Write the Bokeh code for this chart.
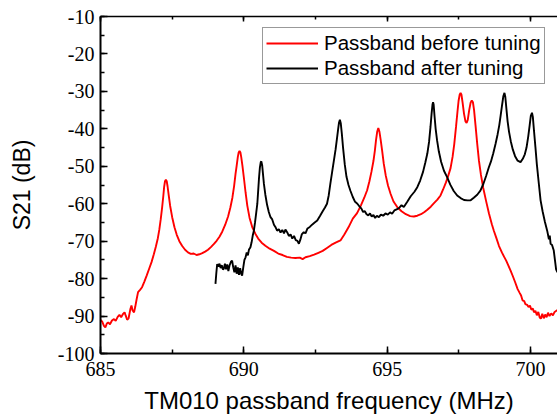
from bokeh.plotting import figure
from bokeh.models import (LinearAxis, Range1d, Legend, LegendItem, SingleIntervalTicker,
                          PrintfTickFormatter, CustomJSTickFormatter)
from bokeh.embed import file_html
from bokeh.resources import INLINE

# ---- data ----
f_before = [685.00, 685.06, 685.12, 685.17, 685.22, 685.27, 685.33, 685.40, 685.47, 685.53,
            685.60, 685.66, 685.72, 685.78, 685.84, 685.88, 685.93, 685.98, 686.04, 686.08,
            686.12, 686.17, 686.21, 686.26, 686.31, 686.38, 686.45, 686.53, 686.61, 686.70,
            686.78, 686.86, 686.93, 687.00, 687.05, 687.10, 687.15, 687.19, 687.22, 687.25,
            687.28, 687.31, 687.34, 687.38, 687.43, 687.50, 687.58, 687.66, 687.75, 687.85,
            687.95, 688.05, 688.15, 688.25, 688.35, 688.45, 688.55, 688.65, 688.75, 688.85,
            688.95, 689.05, 689.15, 689.25, 689.35, 689.45, 689.53, 689.60, 689.66, 689.71,
            689.75, 689.79, 689.82, 689.85, 689.88, 689.91, 689.95, 690.00, 690.06, 690.12,
            690.20, 690.30, 690.40, 690.50, 690.62, 690.75, 690.90, 691.05, 691.20, 691.35,
            691.50, 691.65, 691.80, 691.95, 692.05, 692.15, 692.30, 692.45, 692.60, 692.75,
            692.90, 693.05, 693.20, 693.37, 693.50, 693.65, 693.80, 693.95, 694.08, 694.20,
            694.30, 694.38, 694.45, 694.52, 694.57, 694.61, 694.65, 694.69, 694.73, 694.77,
            694.82, 694.88, 694.95, 695.03, 695.12, 695.22, 695.35, 695.50, 695.65, 695.80,
            695.93, 696.05, 696.18, 696.30, 696.40, 696.52, 696.64, 696.75, 696.86, 696.95,
            697.05, 697.13, 697.21, 697.28, 697.34, 697.40, 697.45, 697.49, 697.53, 697.56,
            697.59, 697.63, 697.68, 697.73, 697.77, 697.81, 697.86, 697.91, 697.95, 697.99,
            698.03, 698.08, 698.14, 698.20, 698.27, 698.35, 698.45, 698.55, 698.65, 698.72,
            698.80, 698.90, 699.00, 699.08, 699.15, 699.22, 699.30, 699.38, 699.46, 699.55,
            699.62, 699.67, 699.72, 699.78, 699.82, 699.88, 699.93, 699.98, 700.03, 700.08,
            700.12, 700.17, 700.22, 700.27, 700.32, 700.36, 700.41, 700.46, 700.51, 700.56,
            700.61, 700.66, 700.72, 700.78, 700.84, 700.90, 700.94]
s21_before = [-91.0, -91.5, -92.6, -93.0, -92.0, -91.7, -92.2, -91.2, -90.8, -91.3,
              -90.2, -89.7, -90.3, -89.5, -89.0, -89.9, -91.0, -90.6, -88.2, -87.2,
              -88.5, -89.0, -87.6, -85.5, -83.6, -83.0, -82.3, -80.8, -79.2, -77.3,
              -75.6, -73.5, -71.5, -69.2, -67.0, -64.2, -61.0, -58.0, -55.5, -54.0,
              -53.6, -54.0, -55.4, -57.8, -60.6, -63.6, -66.3, -68.3, -70.0, -71.3,
              -72.3, -73.0, -73.4, -73.3, -73.7, -73.5, -73.2, -72.8, -72.3, -71.6,
              -70.8, -69.9, -68.8, -67.4, -65.6, -63.4, -61.0, -58.4, -55.3, -52.0,
              -49.8, -47.5, -46.3, -45.9, -46.3, -47.6, -49.8, -53.0, -57.0, -60.5,
              -63.8, -66.4, -68.0, -69.3, -70.4, -71.2, -72.0, -72.6, -73.3, -73.7,
              -74.2, -74.4, -74.5, -74.4, -74.8, -74.3, -74.0, -73.6, -73.1, -72.6,
              -71.8, -71.0, -70.4, -69.8, -68.3, -66.3, -64.0, -62.5, -60.5, -58.4,
              -56.4, -54.0, -51.5, -48.6, -45.8, -43.0, -40.8, -39.8, -40.8, -42.8,
              -45.6, -49.3, -52.5, -55.2, -57.4, -59.4, -60.9, -62.0, -62.8, -63.3,
              -63.4, -63.2, -62.8, -62.2, -61.6, -60.8, -59.8, -58.9, -57.8, -56.2,
              -54.3, -52.5, -50.5, -47.5, -44.0, -39.5, -35.5, -32.5, -30.8, -30.4,
              -30.9, -33.0, -36.0, -38.0, -38.4, -37.6, -35.0, -33.0, -32.4, -32.9,
              -35.0, -39.0, -44.0, -48.5, -52.3, -55.8, -59.3, -62.6, -65.5, -67.2,
              -69.0, -71.3, -73.0, -74.2, -75.2, -76.4, -77.8, -79.3, -80.9, -82.8,
              -83.8, -84.5, -85.8, -86.0, -86.8, -87.0, -87.6, -87.2, -88.3, -88.0,
              -89.0, -88.6, -89.8, -88.9, -90.4, -90.7, -89.4, -90.6, -89.6, -90.3,
              -89.1, -90.0, -89.3, -89.8, -88.9, -88.6, -88.4]

f_after = [689.01, 689.04, 689.07, 689.11, 689.15, 689.19, 689.23, 689.27, 689.30, 689.34,
           689.38, 689.42, 689.46, 689.50, 689.55, 689.59, 689.63, 689.67, 689.71, 689.75,
           689.79, 689.83, 689.87, 689.91, 689.94, 689.98, 690.02, 690.06, 690.10, 690.14,
           690.18, 690.23, 690.27, 690.31, 690.35, 690.39, 690.43, 690.47, 690.50, 690.53,
           690.56, 690.59, 690.61, 690.64, 690.67, 690.70, 690.75, 690.81, 690.87, 690.93,
           690.99, 691.05, 691.10, 691.16, 691.22, 691.28, 691.34, 691.40, 691.45, 691.51,
           691.57, 691.63, 691.69, 691.75, 691.81, 691.87, 691.92, 691.97, 692.02, 692.09,
           692.15, 692.22, 692.30, 692.38, 692.46, 692.56, 692.66, 692.75, 692.83, 692.90,
           692.96, 693.02, 693.08, 693.14, 693.20, 693.25, 693.29, 693.32, 693.35, 693.38,
           693.42, 693.46, 693.52, 693.58, 693.65, 693.72, 693.80, 693.88, 693.96, 694.04,
           694.10, 694.16, 694.22, 694.28, 694.34, 694.40, 694.46, 694.52, 694.58, 694.64,
           694.71, 694.78, 694.86, 694.94, 695.02, 695.10, 695.17, 695.25, 695.33, 695.41,
           695.50, 695.58, 695.70, 695.82, 695.95, 696.05, 696.15, 696.25, 696.33, 696.40,
           696.46, 696.51, 696.55, 696.58, 696.60, 696.62, 696.65, 696.69, 696.74, 696.80,
           696.88, 696.98, 697.09, 697.20, 697.32, 697.44, 697.56, 697.68, 697.80, 697.91,
           698.02, 698.14, 698.25, 698.35, 698.45, 698.54, 698.62, 698.70, 698.78, 698.85,
           698.91, 698.96, 699.01, 699.05, 699.09, 699.12, 699.16, 699.20, 699.25, 699.31,
           699.38, 699.46, 699.55, 699.65, 699.73, 699.80, 699.86, 699.92, 699.97, 700.01,
           700.05, 700.08, 700.12, 700.17, 700.22, 700.28, 700.35, 700.42, 700.50, 700.58,
           700.64, 700.67, 700.70, 700.75, 700.81, 700.85, 700.89, 700.94]
s21_after = [-81.4, -78.5, -76.1, -76.8, -76.0, -77.2, -76.4, -77.6, -77.4, -76.0,
             -77.5, -76.2, -78.0, -76.5, -75.5, -75.2, -77.0, -78.3, -76.5, -78.7,
             -77.0, -79.0, -77.2, -78.8, -79.2, -77.0, -75.0, -74.3, -73.0, -73.8,
             -72.2, -71.6, -70.3, -68.5, -67.2, -65.0, -62.5, -60.0, -56.5, -53.0,
             -50.3, -48.9, -48.7, -49.8, -52.3, -54.7, -57.6, -60.3, -62.2, -63.6,
             -64.2, -65.6, -66.2, -67.2, -66.8, -67.7, -67.0, -67.9, -66.9, -67.6,
             -68.6, -68.2, -69.3, -68.6, -69.7, -69.9, -70.7, -69.6, -68.2, -67.6,
             -67.9, -66.6, -66.2, -65.6, -65.1, -64.5, -63.2, -62.0, -61.0, -60.0,
             -57.8, -54.5, -51.5, -48.5, -45.5, -42.5, -40.0, -38.3, -37.6, -38.5,
             -41.5, -45.0, -49.5, -52.8, -55.0, -56.6, -58.2, -59.5, -60.0, -60.8,
             -61.3, -62.2, -62.0, -62.8, -63.1, -62.6, -63.4, -63.0, -63.8, -63.2,
             -63.6, -62.9, -63.2, -62.6, -62.9, -62.3, -62.7, -61.8, -61.5, -61.2,
             -60.4, -60.9, -59.5, -58.0, -56.8, -55.6, -53.8, -51.5, -49.0, -46.6,
             -43.5, -39.5, -35.8, -33.5, -32.9, -33.5, -36.5, -40.0, -43.1, -46.0,
             -48.8, -51.2, -52.9, -54.9, -56.6, -57.8, -58.5, -59.0, -59.1, -59.1,
             -58.4, -57.6, -56.5, -54.8, -52.6, -50.4, -48.7, -46.5, -44.0, -41.5,
             -39.0, -36.3, -33.5, -31.3, -30.4, -31.5, -34.8, -38.0, -40.8, -43.3,
             -45.5, -47.3, -48.5, -48.9, -48.0, -46.8, -45.0, -42.0, -39.0, -36.5,
             -35.7, -36.8, -40.5, -44.9, -49.5, -54.0, -59.1, -62.0, -64.8, -67.2,
             -69.5, -68.5, -70.7, -71.0, -72.5, -75.0, -77.5, -78.3]

series_labels = ["Passband before tuning", "Passband after tuning"]
x_title = "TM010 passband frequency (MHz)"
y_title = "S21 (dB)"

SERIF = "'Liberation Serif', 'Times New Roman', serif"
SANS = "'Liberation Sans', Arial, sans-serif"

# ---- figure ----
p = figure(width=557, height=417, output_backend="svg", toolbar_location=None,
           x_range=Range1d(685, 700.94), y_range=Range1d(-100, -10),
           min_border_left=100, min_border_right=0, min_border_top=16, min_border_bottom=64,
           background_fill_color="white", border_fill_color="white")
p.outline_line_color = None
p.xgrid.visible = False
p.ygrid.visible = False

r1 = p.line(f_before, s21_before, line_color="#ff0000", line_width=1.9)
r2 = p.line(f_after, s21_after, line_color="black", line_width=1.9)

p.xaxis.ticker = SingleIntervalTicker(interval=5, num_minor_ticks=2)
p.yaxis.ticker = SingleIntervalTicker(interval=10, num_minor_ticks=2)
p.xaxis.formatter = PrintfTickFormatter(format="%d")
p.yaxis.formatter = PrintfTickFormatter(format="%d")

for ax in [p.xaxis[0], p.yaxis[0]]:
    ax.axis_line_width = 2
    ax.axis_line_color = "black"
    ax.major_tick_in = 7
    ax.major_tick_out = 0
    ax.minor_tick_in = 4
    ax.minor_tick_out = 0
    ax.major_tick_line_width = 1.5
    ax.minor_tick_line_width = 1.5
    ax.major_tick_line_color = "black"
    ax.minor_tick_line_color = "black"
    ax.major_label_text_font = SERIF
    ax.major_label_text_font_size = "20px"
    ax.major_label_text_color = "black"
    ax.major_label_text_line_height = 1.0
    ax.axis_label_text_font = SANS
    ax.axis_label_text_font_style = "normal"
    ax.axis_label_text_color = "black"
    ax.axis_label_text_line_height = 1.0

p.xaxis.axis_label = x_title
p.yaxis.axis_label = y_title
p.xaxis.axis_label_text_font_size = "24px"
p.yaxis.axis_label_text_font_size = "23px"
p.xaxis.major_label_standoff = 8
p.xaxis.axis_label_standoff = 8
p.yaxis.major_label_standoff = 6
p.yaxis.axis_label_standoff = 20

top = LinearAxis(ticker=SingleIntervalTicker(interval=5, num_minor_ticks=2),
                 formatter=CustomJSTickFormatter(code="return ''"),
                 major_label_standoff=0, axis_line_width=1.5,
                 major_tick_in=5, major_tick_out=0, minor_tick_in=3, minor_tick_out=0,
                 major_tick_line_width=1.5, minor_tick_line_width=1.5)
p.add_layout(top, "above")

legend = Legend(items=[LegendItem(label=series_labels[0], renderers=[r1]),
                       LegendItem(label=series_labels[1], renderers=[r2])],
                location=(162, 269), padding=3, margin=0, spacing=1,
                label_standoff=6, glyph_width=52, glyph_height=20, label_height=20,
                label_text_font=SANS, label_text_font_size="20.5px",
                label_text_color="black", border_line_color="#333333", border_line_width=1,
                background_fill_color="white", background_fill_alpha=1.0)
p.add_layout(legend, "center")

open("out.html", "w").write(file_html(p, INLINE))
